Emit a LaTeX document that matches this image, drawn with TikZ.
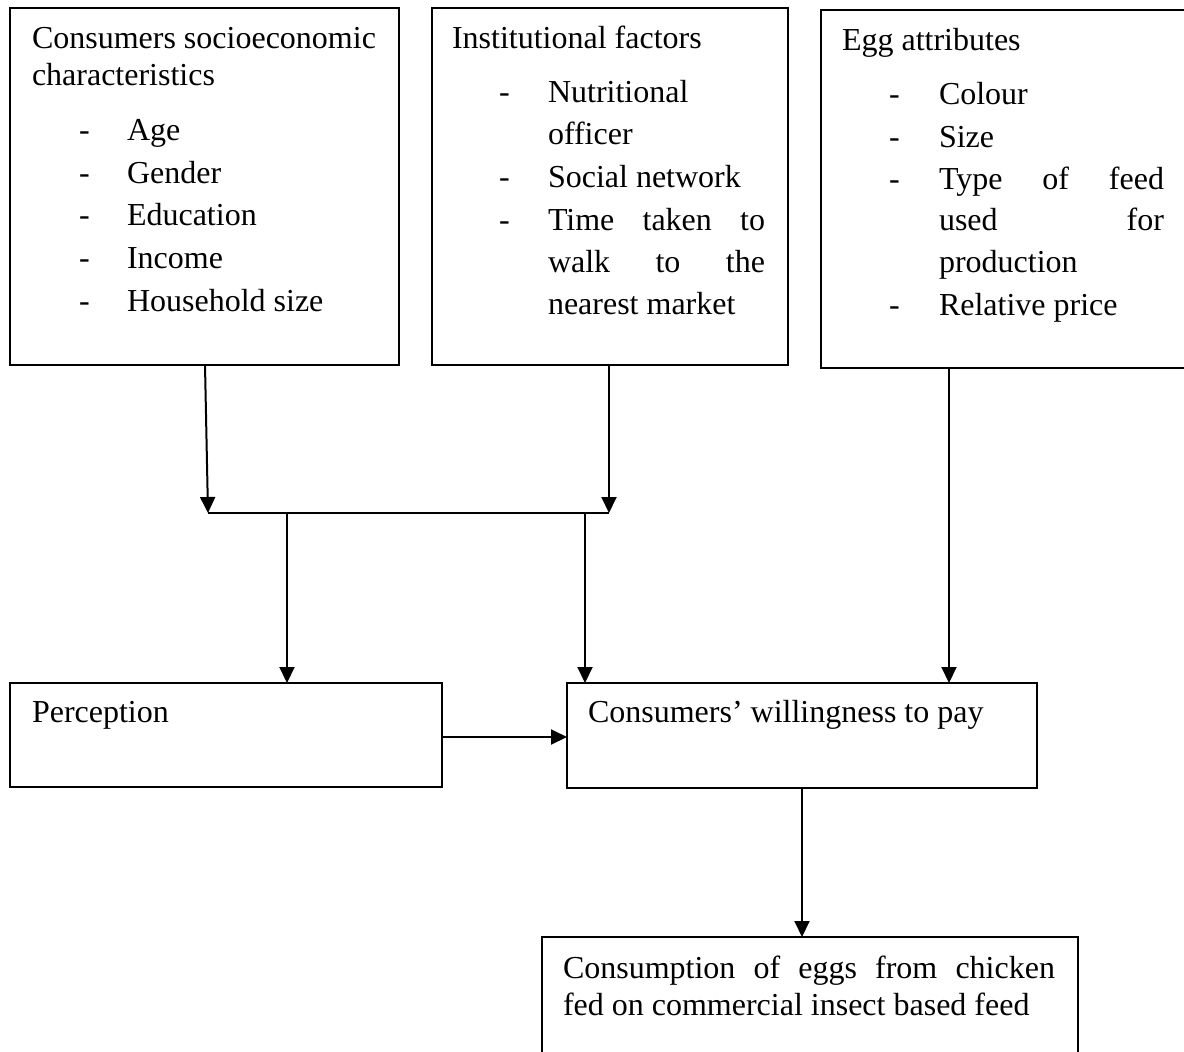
\documentclass[tikz,border=0pt]{standalone}
\usepackage{fontspec}
\setmainfont{Liberation Serif}[Ligatures=NoCommon]
\usetikzlibrary{arrows.meta}
\tikzset{
  box/.style={draw, line width=2.2pt, rectangle, inner sep=0pt, outer sep=0pt, anchor=north west},
  txt/.style={anchor=base west, inner sep=0pt, outer sep=0pt, font=\fontsize{32}{37}\selectfont},
  arr/.style={line width=2pt, -{Triangle[length=16pt,width=15pt]}},
  joinline/.style={line width=1.4pt}
}
\begin{document}
\begin{tikzpicture}[x=1pt,y=-1pt]
\useasboundingbox (0,0) rectangle (1184,1052);
\clip (0,0) rectangle (1184,1052);
\fill[white] (0,0) rectangle (1184,1052);

% boxes
\node[box, minimum width=389pt, minimum height=357pt] (box1) at (10,8) {};
\node[box, minimum width=356pt, minimum height=357pt] (box2) at (432,8) {};
\node[box, minimum width=380pt, minimum height=358pt] (box3) at (821,10) {};
\node[box, minimum width=432pt, minimum height=104pt] (perc) at (10,683) {};
\node[box, minimum width=470pt, minimum height=105pt] (wtp) at (567,683) {};
\node[box, minimum width=536pt, minimum height=160pt] (cons) at (542,937) {};

% box 1 text
\node[txt] (b1h1) at (32,48) {Consumers socioeconomic};
\node[txt] (b1h2) at (32,85) {characteristics};
\node[txt] (b1d1) at (79,140) {-};
\node[txt] (b1d2) at (79,183) {-};
\node[txt] (b1d3) at (79,225) {-};
\node[txt] (b1d4) at (79,268) {-};
\node[txt] (b1d5) at (79,311) {-};
\node[txt] (b1i1) at (127,140) {Age};
\node[txt] (b1i2) at (127,183) {Gender};
\node[txt] (b1i3) at (127,225) {Education};
\node[txt] (b1i4) at (127,268) {Income};
\node[txt] (b1i5) at (127,311) {Household size};

% box 2 text
\node[txt] (b2h) at (452,48) {Institutional factors};
\node[txt] (b2d1) at (499,102) {-};
\node[txt] (b2d2) at (499,187) {-};
\node[txt] (b2d3) at (499,230) {-};
\node[txt] (b2i1) at (548,102) {Nutritional};
\node[txt] (b2i1b) at (548,144) {officer};
\node[txt] (b2i2) at (548,187) {Social network};
\node[txt] (b2i3) at (548,230) {\makebox[217pt][s]{Time taken to}};
\node[txt] (b2i3b) at (548,272) {\makebox[217pt][s]{walk to the}};
\node[txt] (b2i3c) at (548,314) {nearest market};

% box 3 text
\node[txt] (b3h) at (842,50) {Egg attributes};
\node[txt] (b3d1) at (889,104) {-};
\node[txt] (b3d2) at (889,147) {-};
\node[txt] (b3d3) at (889,189) {-};
\node[txt] (b3d4) at (889,315) {-};
\node[txt] (b3i1) at (939,104) {Colour};
\node[txt] (b3i2) at (939,147) {Size};
\node[txt] (b3i3) at (939,189) {\makebox[225pt][s]{Type of feed}};
\node[txt] (b3i3b) at (939,230) {\makebox[225pt][s]{used for}};
\node[txt] (b3i3c) at (939,272) {production};
\node[txt] (b3i4) at (939,315) {Relative price};

% lower boxes text
\node[txt] (perct) at (32,722) {Perception};
\node[txt] (wtpt) at (588,722) {Consumers’ willingness to pay};
\node[txt] (const1) at (563,978) {\makebox[492pt][s]{Consumption of eggs from chicken}};
\node[txt] (const2) at (563,1015) {fed on commercial insect based feed};

% connectors
\coordinate (j1) at (208,513);
\coordinate (j2) at (609,513);
\coordinate (k1) at (287,513);
\coordinate (k2) at (585,513);
\draw[arr] ([xshift=195pt]box1.south west) -- (j1);
\draw[arr] ([xshift=177pt]box2.south west) -- (j2);
\draw[joinline] (j1) -- (j2);
\draw[arr] (k1) -- (k1 |- perc.north);
\draw[arr] (k2) -- (k2 |- wtp.north);
\draw[arr] ([xshift=128pt]box3.south west) -- ([xshift=128pt]box3.south west |- wtp.north);
\draw[arr] ([yshift=-2pt]perc.east) -- ([yshift=-2pt]perc.east -| wtp.west);
\draw[arr] (wtp.south) -- (wtp.south |- cons.north);
\end{tikzpicture}
\end{document}
